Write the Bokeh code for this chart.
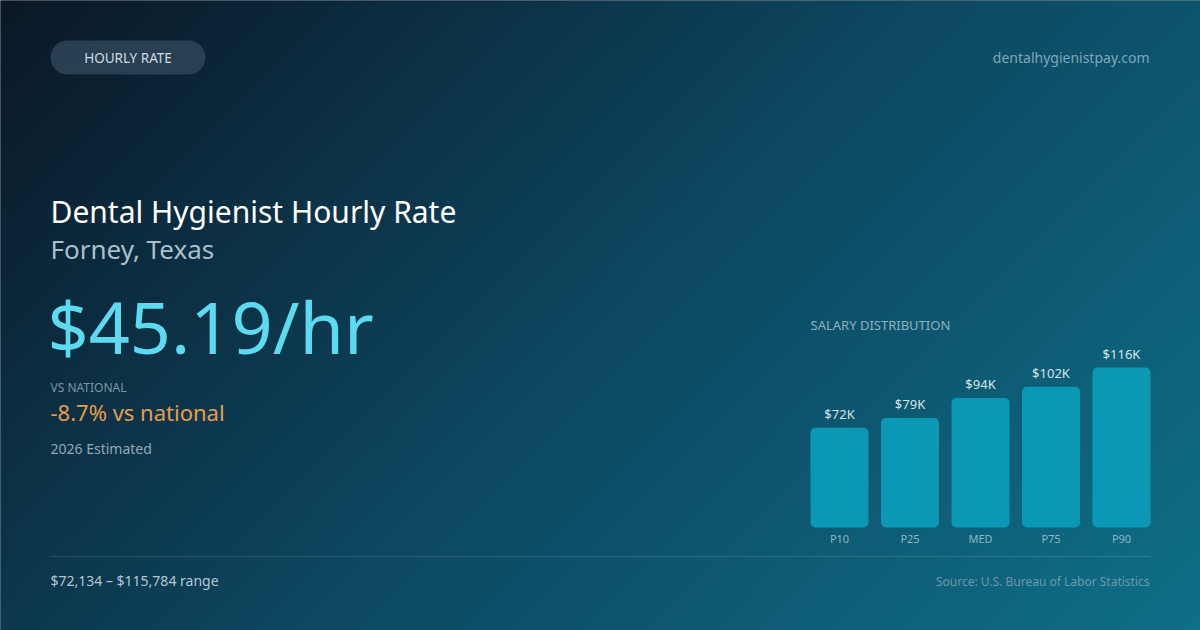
import numpy as np
from bokeh.plotting import figure
from bokeh.models import Range1d, ColumnDataSource
from bokeh.core.properties import value
from bokeh.embed import file_html
from bokeh.resources import INLINE

W, H = 1200, 630
FONT = "Noto Sans"

# chart data
tiers = ["P10", "P25", "MED", "P75", "P90"]
salaries = [72134, 79300, 93800, 101900, 115784]
hourly_rate = 45.19
vs_national_pct = -8.7
year_note = "2026 Estimated"
site = "dentalhygienistpay.com"
source_note = "Source: U.S. Bureau of Labor Statistics"

bar_labels = ["$%dK" % round(s / 1000) for s in salaries]
range_text = "$%s \u2013 $%s range" % (f"{salaries[0]:,}", f"{salaries[-1]:,}")

p = figure(width=W, height=H, x_range=Range1d(0, W), y_range=Range1d(0, H),
           output_backend="svg", toolbar_location=None, min_border=0,
           x_axis_type=None, y_axis_type=None)
p.grid.visible = False
p.outline_line_color = None
p.background_fill_color = "#0c1a28"
p.border_fill_color = "#0c1a28"

# diagonal background gradient (dark navy top-left -> teal bottom-right)
ny, nx = 315, 600
X, Ytop = np.meshgrid(np.linspace(0, W, nx), np.linspace(H, 0, ny))
t = (X + Ytop) / (W + H)
img = np.empty((ny, nx), dtype=np.uint32)
view = img.view(dtype=np.uint8).reshape((ny, nx, 4))
view[..., 0] = np.interp(t, [0, 0.5, 1], [11, 13, 15])
view[..., 1] = np.interp(t, [0, 0.5, 1], [23, 71, 112])
view[..., 2] = np.interp(t, [0, 0.5, 1], [38, 96, 137])
view[..., 3] = 255
p.image_rgba(image=[img], x=-4, y=-4, dw=W + 8, dh=H + 8)

MID = 0.43  # text centre sits this many ems above the baseline


def label(x, base, txt, size, color, align="left"):
    # base = baseline distance from the top edge
    p.text(x=[x], y=[H - base + MID * size], text=[txt], text_font=value(FONT),
           text_font_size=f"{size}px", text_color=color,
           text_align=align, text_baseline="middle")


# header
p.quad(left=50, right=205, top=H - 40, bottom=H - 74, border_radius=17,
       fill_color="#2b4455", fill_alpha=0.9, line_color=None)
label(127.5, 63, "HOURLY RATE", 13.5, "#cfd9e0", "center")
label(1149, 63, site, 14, "#7fa7b9", "right")

# left block
label(50, 224, "Dental Hygienist Hourly Rate", 30, "#ffffff")
label(50, 260, "Forney, Texas", 26, "#a9bfcc")
label(47, 356, "$%.2f/hr" % hourly_rate, 72, "#5cdaf0")
label(50, 392, "VS NATIONAL", 12, "#7d95a5")
label(50, 421, "%+.1f%% vs national" % vs_national_pct, 22, "#e69c4c")
label(50, 454, year_note, 14, "#93a9b6")

# footer
p.segment(x0=[50], y0=[H - 556], x1=[1150], y1=[H - 556],
          line_color="#ffffff", line_alpha=0.13, line_width=1)
label(50, 586, range_text, 14, "#b6c6d0")
label(1149, 586, source_note, 12, "#6f97aa", "right")

# salary distribution bars
label(810, 330, "SALARY DISTRIBUTION", 13, "#8db0c0")
unit, first_center = 70.5, 839
bar_base, bar_max_px = 527, 160
k = max(salaries) / bar_max_px
p.extra_x_ranges = {"bars": Range1d(-first_center / unit, (W - first_center) / unit)}
p.extra_y_ranges = {"sal": Range1d(-(H - bar_base) * k, bar_base * k)}

src = ColumnDataSource(dict(
    x=list(range(len(tiers))), top=salaries, tier=tiers, lab=bar_labels,
    lab_y=[s + (8 + MID * 13) * k for s in salaries],
    tier_y=[-(16 - MID * 11) * k] * len(tiers)))

p.vbar(x="x", top="top", bottom=0, width=58 / unit, source=src,
       x_range_name="bars", y_range_name="sal", border_radius=5,
       fill_color="#0b98b4", line_color=None)
p.text(x="x", y="lab_y", text="lab", source=src, x_range_name="bars",
       y_range_name="sal", text_font=value(FONT), text_font_size="13px",
       text_color="#d3e4eb", text_align="center", text_baseline="middle")
p.text(x="x", y="tier_y", text="tier", source=src, x_range_name="bars",
       y_range_name="sal", text_font=value(FONT), text_font_size="11px",
       text_color="#8bb7c8", text_align="center", text_baseline="middle")

html = file_html(p, INLINE, title="Dental Hygienist Hourly Rate")
html = html.replace("<body>", '<body style="margin:0;overflow:hidden;background:#0c1a28;">', 1)
html = html.replace("</head>", "<style>svg{display:block;outline:none;border:0}</style></head>", 1)
open("out.html", "w").write(html)
